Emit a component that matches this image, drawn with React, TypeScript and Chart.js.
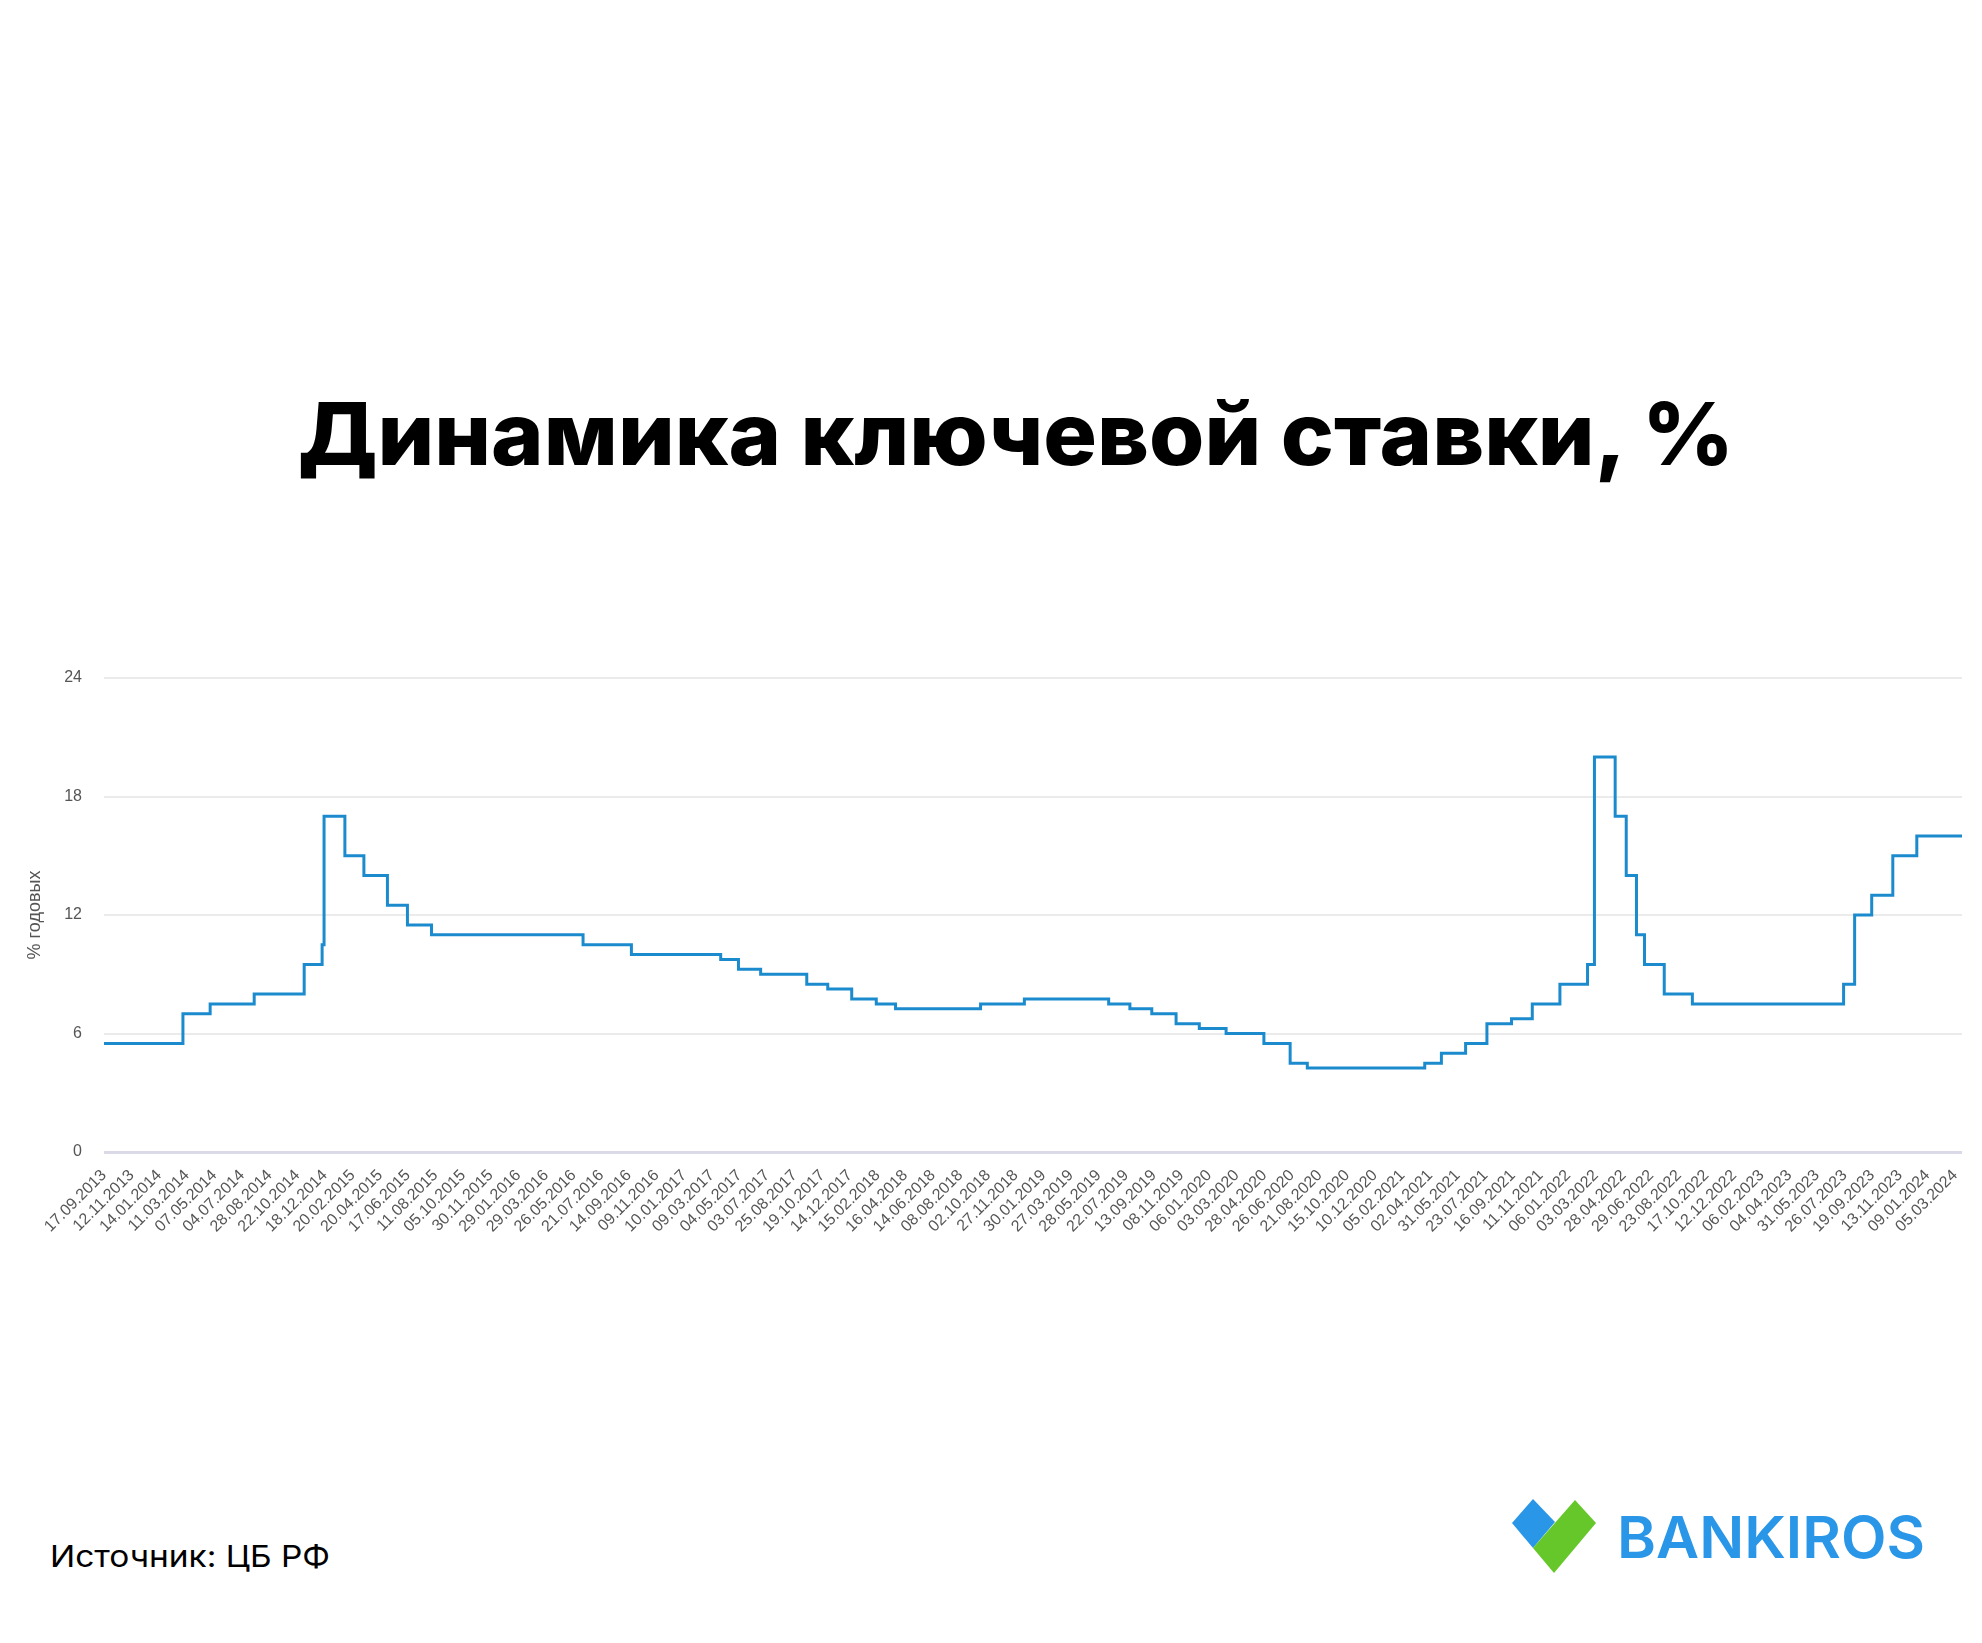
import React, { useEffect, useRef } from 'react';
import { Chart, registerables } from 'chart.js';

Chart.register(...registerables);

// X-axis tick labels (every 40th working day, as on the original chart)
const tickLabels: string[] = [
  '17.09.2013', '12.11.2013', '14.01.2014', '11.03.2014', '07.05.2014', '04.07.2014', '28.08.2014',
  '22.10.2014', '18.12.2014', '20.02.2015', '20.04.2015', '17.06.2015', '11.08.2015', '05.10.2015',
  '30.11.2015', '29.01.2016', '29.03.2016', '26.05.2016', '21.07.2016', '14.09.2016', '09.11.2016',
  '10.01.2017', '09.03.2017', '04.05.2017', '03.07.2017', '25.08.2017', '19.10.2017', '14.12.2017',
  '15.02.2018', '16.04.2018', '14.06.2018', '08.08.2018', '02.10.2018', '27.11.2018', '30.01.2019',
  '27.03.2019', '28.05.2019', '22.07.2019', '13.09.2019', '08.11.2019', '06.01.2020', '03.03.2020',
  '28.04.2020', '26.06.2020', '21.08.2020', '15.10.2020', '10.12.2020', '05.02.2021', '02.04.2021',
  '31.05.2021', '23.07.2021', '16.09.2021', '11.11.2021', '06.01.2022', '03.03.2022', '28.04.2022',
  '29.06.2022', '23.08.2022', '17.10.2022', '12.12.2022', '06.02.2023', '04.04.2023', '31.05.2023',
  '26.07.2023', '19.09.2023', '13.11.2023', '09.01.2024', '05.03.2024',
];

// Key rate change dates and the new rate (% per year) from that date; last entry = end of series
const rateChangeDates: string[] = [
  '17.09.2013', '03.03.2014', '28.04.2014', '28.07.2014', '05.11.2014', '12.12.2014', '16.12.2014',
  '02.02.2015', '16.03.2015', '05.05.2015', '16.06.2015', '03.08.2015', '14.06.2016', '19.09.2016',
  '27.03.2017', '02.05.2017', '19.06.2017', '18.09.2017', '30.10.2017', '18.12.2017', '12.02.2018',
  '26.03.2018', '17.09.2018', '17.12.2018', '17.06.2019', '29.07.2019', '09.09.2019', '28.10.2019',
  '16.12.2019', '10.02.2020', '27.04.2020', '22.06.2020', '27.07.2020', '22.03.2021', '26.04.2021',
  '15.06.2021', '26.07.2021', '13.09.2021', '25.10.2021', '20.12.2021', '14.02.2022', '28.02.2022',
  '11.04.2022', '04.05.2022', '27.05.2022', '14.06.2022', '25.07.2022', '19.09.2022', '24.07.2023',
  '15.08.2023', '18.09.2023', '30.10.2023', '18.12.2023', '19.03.2024',
];
const rateValues: number[] = [
  5.5, 7.0, 7.5, 8.0, 9.5, 10.5, 17.0,
  15.0, 14.0, 12.5, 11.5, 11.0, 10.5, 10.0,
  9.75, 9.25, 9.0, 8.5, 8.25, 7.75, 7.5,
  7.25, 7.5, 7.75, 7.5, 7.25, 7.0, 6.5,
  6.25, 6.0, 5.5, 4.5, 4.25, 4.5, 5.0,
  5.5, 6.5, 6.75, 7.5, 8.5, 9.5, 20.0,
  17.0, 14.0, 11.0, 9.5, 8.0, 7.5, 8.5,
  12.0, 13.0, 15.0, 16.0, 16.0,
];

const yMin = 0;
const yMax = 24;
const yStep = 6;

const titleText = 'Динамика ключевой ставки, %';
const yAxisTitle = '% годовых';
const sourceText = 'Источник: ЦБ РФ';
const brandText = 'BANKIROS';

function dayNumber(s: string): number {
  const [d, m, y] = s.split('.').map(Number);
  return Date.UTC(y, m - 1, d) / 86400000;
}

// position of a date on the label-index axis (extends the last interval past the last label)
function labelIndex(s: string): number {
  const t = dayNumber(s);
  const days = tickLabels.map(dayNumber);
  const n = days.length;
  for (let i = 0; i < n - 1; i++) {
    if (t < days[i + 1]) return i + (t - days[i]) / (days[i + 1] - days[i]);
  }
  return n - 2 + (t - days[n - 2]) / (days[n - 1] - days[n - 2]);
}

const CANVAS_TOP = 640;
const CANVAS_W = 1982;
const CANVAS_H = 640;

function RateChart() {
  const ref = useRef<HTMLCanvasElement | null>(null);
  useEffect(() => {
    if (!ref.current) return;
    const tickFont = { family: "'Liberation Sans', Arial, sans-serif", size: 16 };
    const points = rateChangeDates.map((d, i) => ({ x: labelIndex(d), y: rateValues[i] }));
    const chart = new Chart(ref.current, {
      type: 'line',
      data: {
        datasets: [
          {
            data: points,
            stepped: 'before',
            borderColor: '#1c8bce',
            borderWidth: 3,
            pointRadius: 0,
            fill: false,
          },
        ],
      },
      options: {
        responsive: false,
        animation: false,
        devicePixelRatio: 1,
        layout: { padding: { top: 38, right: 20, left: 0, bottom: 0 } },
        plugins: { legend: { display: false }, tooltip: { enabled: false } },
        scales: {
          x: {
            type: 'linear',
            min: 0,
            max: points[points.length - 1].x,
            afterBuildTicks: (scale: any) => {
              scale.ticks = tickLabels.map((_, i) => ({ value: i }));
            },
            afterFit: (scale: any) => {
              scale.height = 128;
            },
            ticks: {
              autoSkip: false,
              minRotation: 45,
              maxRotation: 45,
              padding: 6,
              color: '#555555',
              font: tickFont,
              callback: (v: any) => tickLabels[Math.round(Number(v))] ?? '',
            },
            grid: { display: false },
            border: { display: false },
          },
          y: {
            min: yMin,
            max: yMax,
            afterFit: (scale: any) => {
              scale.width = 104;
            },
            ticks: { stepSize: yStep, padding: 22, color: '#555555', font: tickFont },
            grid: {
              drawTicks: false,
              color: (c: any) => (c.tick && c.tick.value === 0 ? '#d9d9e7' : '#ebebeb'),
              lineWidth: (c: any) => (c.tick && c.tick.value === 0 ? 3 : 2),
            },
            border: { display: false },
            title: {
              display: true,
              text: yAxisTitle,
              color: '#555555',
              font: { family: "'Liberation Sans', Arial, sans-serif", size: 18 },
              padding: { top: 24, bottom: 0 },
            },
          },
        },
      },
    } as any);
    return () => chart.destroy();
  }, []);
  return (
    <canvas
      ref={ref}
      width={CANVAS_W}
      height={CANVAS_H}
      style={{ position: 'absolute', left: 0, top: CANVAS_TOP, width: CANVAS_W, height: CANVAS_H }}
    />
  );
}

export default function App() {
  return (
    <div
      style={{
        position: 'absolute',
        left: 0,
        top: 0,
        width: 1982,
        height: 1643,
        background: '#ffffff',
        overflow: 'hidden',
      }}
    >
      <svg
        width={1982}
        height={1643}
        style={{ position: 'absolute', left: 0, top: 0 }}
      >
        <text
          x={298}
          y={465}
          textLength={1436}
          lengthAdjust="spacingAndGlyphs"
          style={{ fontFamily: 'Inter, "Noto Sans", sans-serif', fontWeight: 800, fontSize: 87 }}
          fill="#000000"
        >
          {titleText}
        </text>
        <text
          x={50}
          y={1567}
          textLength={280}
          lengthAdjust="spacingAndGlyphs"
          style={{ fontFamily: 'Inter, "Noto Sans", sans-serif', fontWeight: 400, fontSize: 30 }}
          fill="#000000"
        >
          {sourceText}
        </text>
        <polygon points="1512,1523 1533,1499 1555,1522 1533,1548" fill="#2a96e8" />
        <polygon points="1533,1548 1575,1500 1596,1523 1554,1573" fill="#66c72a" />
        <text
          x={1617}
          y={1558}
          textLength={308}
          lengthAdjust="spacingAndGlyphs"
          style={{ fontFamily: 'Inter, "Noto Sans", sans-serif', fontWeight: 600, fontSize: 58 }}
          fill="#2a96e8"
        >
          {brandText}
        </text>
      </svg>
      <RateChart />
    </div>
  );
}
